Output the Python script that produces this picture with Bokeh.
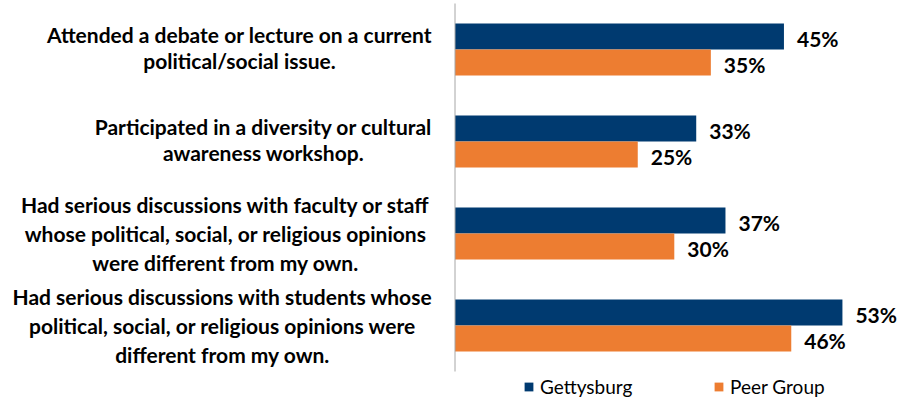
from bokeh.plotting import figure
from bokeh.models import ColumnDataSource, Range1d, Legend, LegendItem
from bokeh.transform import dodge
from bokeh.core.properties import value
from bokeh.embed import file_html
from bokeh.resources import INLINE

# ---- data ----
categories = [
    "Attended a debate or lecture on a current political/social issue.",
    "Participated in a diversity or cultural awareness workshop.",
    "Had serious discussions with faculty or staff whose political, social, or religious opinions were different from my own.",
    "Had serious discussions with students whose political, social, or religious opinions were different from my own.",
]
label_lines = [
    ["Attended a debate or lecture on a current", "political/social issue."],
    ["Participated in a diversity or cultural", "awareness workshop."],
    ["Had serious discussions with faculty or staff",
     "whose political, social, or religious opinions",
     "were different from my own."],
    ["Had serious discussions with students whose",
     "political, social, or religious opinions were",
     "different from my own."],
]
gettysburg = [45, 33, 37, 53]
peer_group = [35, 25, 30, 46]
series_names = ["Gettysburg", "Peer Group"]

# ---- layout (pixels) ----
W, H = 900, 399
AXIS_PX = 454.5
PX_PER_PCT = 7.31
TOP_CENTER_PX = 49
BAND_PX = 92
BAR_PX = 26
LABEL_CENTER_PX = [239, 263, 225, 222]
NAVY = "#003A70"
ORANGE = "#ED7D31"
FONT = "Lato"

x_start = -AXIS_PX / PX_PER_PCT
x_end = (W - AXIS_PX) / PX_PER_PCT
y_bottom = (H - TOP_CENTER_PX) / BAND_PX
y_top = -TOP_CENTER_PX / BAND_PX

p = figure(width=W, height=H,
           x_range=Range1d(x_start, x_end), y_range=Range1d(y_bottom, y_top),
           x_axis_location=None, y_axis_location=None,
           output_backend="svg", toolbar_location=None, min_border=0)
p.grid.visible = False
p.outline_line_color = None
p.background_fill_color = "white"
p.border_fill_color = "white"

pos = list(range(len(categories)))
bar_h = BAR_PX / BAND_PX
src = ColumnDataSource(dict(
    pos=pos, g=gettysburg, pg=peer_group,
    g_txt=[f"{v}%" for v in gettysburg], pg_txt=[f"{v}%" for v in peer_group],
))

r1 = p.hbar(y=dodge("pos", -bar_h / 2), left=0, right="g", height=bar_h,
            fill_color=NAVY, line_color=None, source=src)
r2 = p.hbar(y=dodge("pos", bar_h / 2), left=0, right="pg", height=bar_h,
            fill_color=ORANGE, line_color=None, source=src)

common = dict(x_offset=13, y_offset=2, text_align="left", text_baseline="middle",
              text_font=value(FONT), text_font_style="bold",
              text_font_size="21px", text_color="#000000", source=src)
p.text(x="g", y=dodge("pos", -bar_h / 2), text="g_txt", **common)
p.text(x="pg", y=dodge("pos", bar_h / 2), text="pg_txt", **common)

# axis line
n = len(categories)
p.segment(x0=[0], y0=[-0.5], x1=[0], y1=[n - 0.5], line_color="#A6A6A6", line_width=1)

# category labels (centered lines)
lx, ly, lo, lt = [], [], [], []
for i, lines in enumerate(label_lines):
    k = len(lines)
    spacing = 26.5 if k == 2 else 29
    shift = -2 if k == 2 else 0
    for j, line in enumerate(lines):
        lx.append((LABEL_CENTER_PX[i] - AXIS_PX) / PX_PER_PCT)
        ly.append(i)
        lo.append((j - (k - 1) / 2) * spacing + shift)
        lt.append(line)
lab_src = ColumnDataSource(dict(x=lx, y=ly, off=lo, text=lt))
p.text(x="x", y="y", y_offset="off", text="text", source=lab_src,
       text_align="center", text_baseline="middle",
       text_font=value(FONT), text_font_style="bold", text_font_size="21px",
       text_color="#000000")

legend = Legend(items=[LegendItem(label=series_names[0], renderers=[r1]),
                       LegendItem(label=series_names[1], renderers=[r2])],
                orientation="horizontal", location=(523, 1.5),
                padding=0, spacing=0, margin=0,
                glyph_width=11, glyph_height=11, label_standoff=6,
                label_width=173, label_height=20,
                label_text_font=FONT, label_text_font_size="19px",
                label_text_color="#000000",
                border_line_color=None, background_fill_alpha=0)
p.add_layout(legend)

open("out.html", "w").write(file_html(p, INLINE))
